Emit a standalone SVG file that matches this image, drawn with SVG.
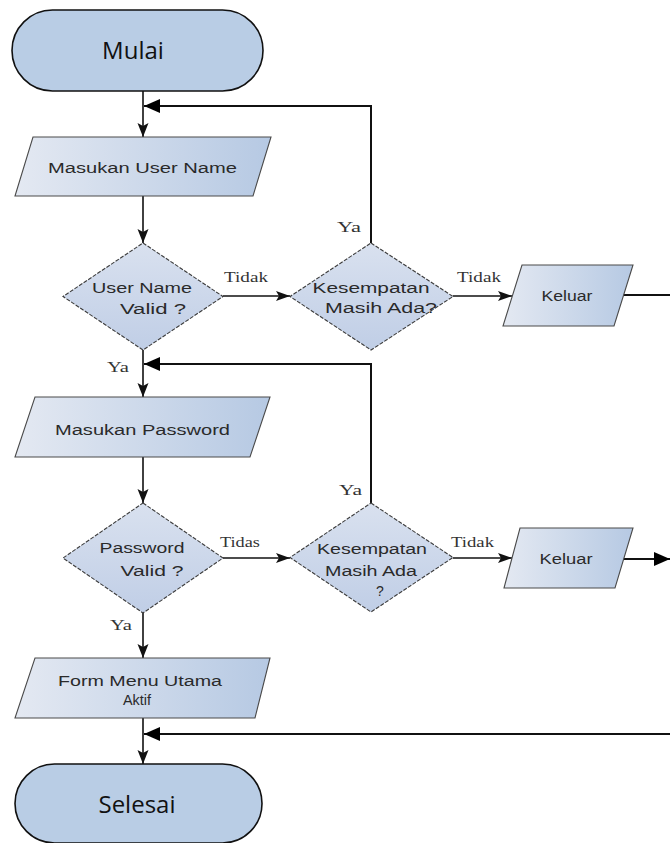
<svg xmlns="http://www.w3.org/2000/svg" width="670" height="843" viewBox="0 0 670 843">
  <defs>
    <linearGradient id="gBox" x1="0" y1="0" x2="1" y2="0">
      <stop offset="0" stop-color="#e4e9f2"/>
      <stop offset="1" stop-color="#b6c9e3"/>
    </linearGradient>
    <linearGradient id="gDia" x1="0" y1="0" x2="0" y2="1">
      <stop offset="0" stop-color="#d9e1ef"/>
      <stop offset="1" stop-color="#c0cee6"/>
    </linearGradient>
    <marker id="arrBig" markerUnits="userSpaceOnUse" markerWidth="17" markerHeight="15" refX="16" refY="7" orient="auto">
      <path d="M0,0 L16,7 L0,14 z" fill="#000"/>
    </marker>
    <marker id="arrDown" markerUnits="userSpaceOnUse" markerWidth="15" markerHeight="12" refX="14" refY="5.5" orient="auto">
      <path d="M0,0 L14,5.5 L0,11 L3,5.5 z" fill="#111"/>
    </marker>
    <marker id="arrSide" markerUnits="userSpaceOnUse" markerWidth="15" markerHeight="11" refX="14" refY="5" orient="auto">
      <path d="M0,0 L14,5 L0,10 L3,5 z" fill="#111"/>
    </marker>
  </defs>
  <style>
    .term { fill: #b9cde5; stroke: #111; stroke-width: 1.6; }
    .termtxt { font-family: "Open Sans", "Liberation Sans", sans-serif; font-size: 24px; fill: #111; text-anchor: middle; }
    .io { fill: url(#gBox); stroke: #4a4a4a; stroke-width: 1.1; }
    .dec { fill: url(#gDia); stroke: #3c3c3c; stroke-width: 1.1; stroke-dasharray: 4 1.5; }
    .txt { font-family: "Liberation Sans", Arial, sans-serif; font-size: 14px; fill: #2a2a2a; text-anchor: middle; }
    .lbl { font-family: "Liberation Serif", "Times New Roman", serif; font-size: 14px; fill: #333; }
    .flow { fill: none; stroke: #111; stroke-width: 1.6; }
    .loop { fill: none; stroke: #111; stroke-width: 2; }
  </style>

  <!-- connectors -->
  <g id="connectors">
    <path class="flow" d="M143,91 V137" marker-end="url(#arrDown)"/>
    <path class="flow" d="M143,196 V243" marker-end="url(#arrDown)"/>
    <path class="flow" d="M143,350 V397" marker-end="url(#arrDown)"/>
    <path class="flow" d="M143,457 V503" marker-end="url(#arrDown)"/>
    <path class="flow" d="M143,613 V658" marker-end="url(#arrDown)"/>
    <path class="flow" d="M143,718 V764" marker-end="url(#arrDown)"/>

    <path class="flow" d="M223,296 H290" marker-end="url(#arrSide)"/>
    <path class="flow" d="M453,296 H512" marker-end="url(#arrSide)"/>
    <path class="flow" d="M223,558 H290" marker-end="url(#arrSide)"/>
    <path class="flow" d="M453,558 H512" marker-end="url(#arrSide)"/>

    <path class="loop" d="M371,243 V106 H144" marker-end="url(#arrBig)"/>
    <path class="loop" d="M371,503 V364 H144" marker-end="url(#arrBig)"/>
    <path class="loop" d="M623,295 H670"/>
    <path class="loop" d="M623,559 H670" marker-end="url(#arrBig)"/>
    <path class="loop" d="M670,734 H144" marker-end="url(#arrBig)"/>

    <text class="lbl" x="224" y="282" textLength="44" lengthAdjust="spacingAndGlyphs">Tidak</text>
    <text class="lbl" x="457" y="282" textLength="44" lengthAdjust="spacingAndGlyphs">Tidak</text>
    <text class="lbl" x="220" y="547" textLength="40" lengthAdjust="spacingAndGlyphs">Tidas</text>
    <text class="lbl" x="451" y="547" textLength="43" lengthAdjust="spacingAndGlyphs">Tidak</text>
    <text class="lbl" x="337" y="232" textLength="24" lengthAdjust="spacingAndGlyphs">Ya</text>
    <text class="lbl" x="107" y="372" textLength="22" lengthAdjust="spacingAndGlyphs">Ya</text>
    <text class="lbl" x="339" y="495" textLength="23" lengthAdjust="spacingAndGlyphs">Ya</text>
    <text class="lbl" x="110" y="630" textLength="22" lengthAdjust="spacingAndGlyphs">Ya</text>
  </g>

  <!-- start -->
  <g id="mulai">
    <rect class="term" x="12" y="10" width="251" height="81" rx="40.5" ry="40.5"/>
    <text class="termtxt" x="133" y="59">Mulai</text>
  </g>

  <g id="input-username">
    <path class="io" d="M33,137 H271 L253,196 H15 Z"/>
    <text class="txt" x="142.5" y="173" textLength="189" lengthAdjust="spacingAndGlyphs">Masukan User Name</text>
  </g>

  <g id="cek-username">
    <path class="dec" d="M143,243 L223,296.5 L143,350 L63,296.5 Z"/>
    <text class="txt" x="142" y="293" textLength="100" lengthAdjust="spacingAndGlyphs">User Name</text>
    <text class="txt" x="153" y="314" textLength="66" lengthAdjust="spacingAndGlyphs">Valid ?</text>
  </g>

  <g id="kesempatan-1">
    <path class="dec" d="M371,243 L453,296.5 L371,350 L290,296.5 Z"/>
    <text class="txt" x="371" y="293" textLength="117" lengthAdjust="spacingAndGlyphs">Kesempatan</text>
    <text class="txt" x="381" y="313" textLength="112" lengthAdjust="spacingAndGlyphs">Masih Ada?</text>
  </g>

  <g id="keluar-1">
    <path class="io" d="M522,265 H633 L614,326 H503 Z"/>
    <text class="txt" x="567" y="301" textLength="51" lengthAdjust="spacingAndGlyphs">Keluar</text>
  </g>

  <g id="input-password">
    <path class="io" d="M35,397 H270 L250,457 H15 Z"/>
    <text class="txt" x="142.5" y="435" textLength="175" lengthAdjust="spacingAndGlyphs">Masukan Password</text>
  </g>

  <g id="cek-password">
    <path class="dec" d="M143,503 L223,558 L143,613 L63,558 Z"/>
    <text class="txt" x="142" y="553" textLength="85" lengthAdjust="spacingAndGlyphs">Password</text>
    <text class="txt" x="152" y="576" textLength="63" lengthAdjust="spacingAndGlyphs">Valid ?</text>
  </g>

  <g id="kesempatan-2">
    <path class="dec" d="M371,503 L453,557.5 L371,612 L290,557.5 Z"/>
    <text class="txt" x="372" y="554" textLength="110" lengthAdjust="spacingAndGlyphs">Kesempatan</text>
    <text class="txt" x="371" y="576" textLength="92" lengthAdjust="spacingAndGlyphs">Masih Ada</text>
    <text class="txt" x="380" y="596">?</text>
  </g>

  <g id="keluar-2">
    <path class="io" d="M520,528 H633 L615,588 H504 Z"/>
    <text class="txt" x="566" y="564" textLength="53" lengthAdjust="spacingAndGlyphs">Keluar</text>
  </g>

  <g id="menu-utama">
    <path class="io" d="M35,658 H270 L255,718 H15 Z"/>
    <text class="txt" x="140" y="686" textLength="164" lengthAdjust="spacingAndGlyphs">Form Menu Utama</text>
    <text class="txt" x="137" y="705" textLength="28" lengthAdjust="spacingAndGlyphs">Aktif</text>
  </g>

  <!-- end -->
  <g id="selesai">
    <rect class="term" x="15" y="764" width="247" height="79" rx="39.5" ry="39.5"/>
    <text class="termtxt" x="137" y="813">Selesai</text>
  </g>
</svg>
